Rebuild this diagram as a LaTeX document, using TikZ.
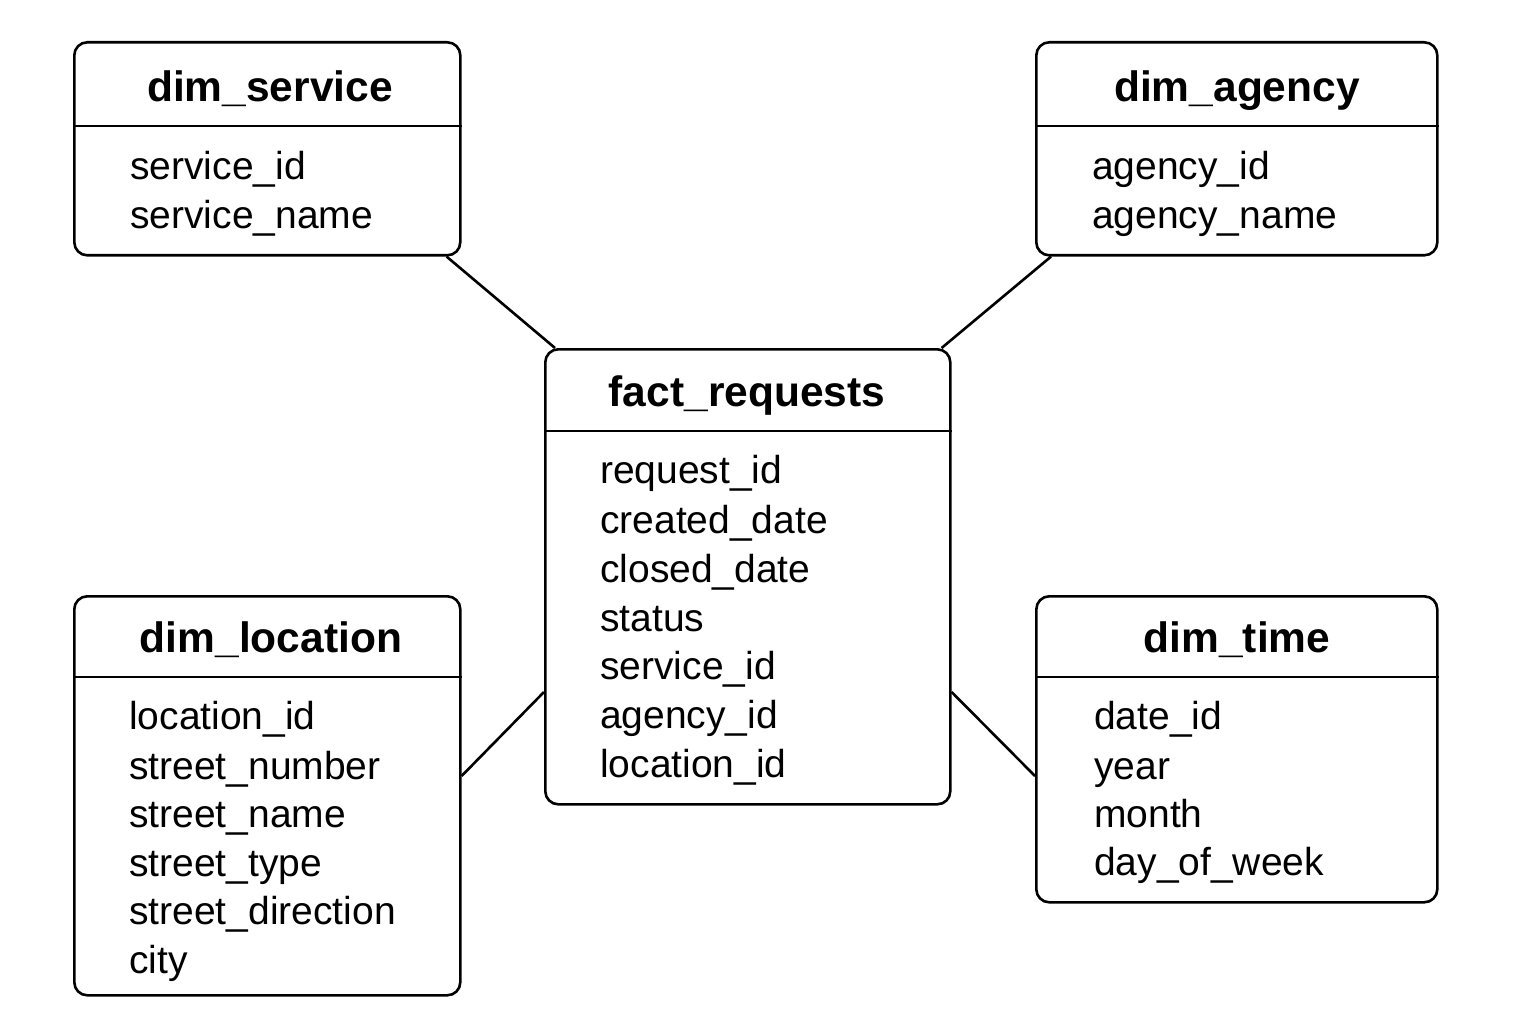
\documentclass[tikz,border=0pt]{standalone}
\usepackage{fontspec}
\setmainfont{Liberation Sans}
\usetikzlibrary{calc}
\begin{document}
\begin{tikzpicture}[x=1pt,y=-1pt,
  box/.style={draw, line width=2.6pt, rounded corners=13pt, anchor=north west, inner sep=0pt},
  sep/.style={line width=2.6pt},
  conn/.style={line width=2.6pt},
  title/.style={font=\fontsize{42.5}{48}\selectfont\bfseries, anchor=base, inner sep=0pt},
  field/.style={font=\fontsize{39}{44}\selectfont, anchor=base west, inner sep=0pt}]
\useasboundingbox[fill=white] (0,0) rectangle (1536,1024);

% dim_service
\node[box, minimum width=386pt, minimum height=213pt] (svc) at (73,41) {};
\draw[sep] (svc.west |- 0,126) -- (svc.east |- 0,126);
\node[title] (svct) at (270,102) {dim\_service};
\node[field] (svc1) at (130,180) {service\_id};
\node[field] (svc2) at (130,229) {service\_name};

% dim_agency
\node[box, minimum width=401pt, minimum height=213pt] (agy) at (1035,41) {};
\draw[sep] (agy.west |- 0,126) -- (agy.east |- 0,126);
\node[title] (agyt) at (1237,102) {dim\_agency};
\node[field] (agy1) at (1092,180) {agency\_id};
\node[field] (agy2) at (1092,229) {agency\_name};

% fact_requests
\node[box, minimum width=405pt, minimum height=455pt] (fact) at (544,348) {};
\draw[sep] (fact.west |- 0,431) -- (fact.east |- 0,431);
\node[title] (factt) at (747,406) {fact\_requests};
\node[field] (f1) at (600,483) {request\_id};
\node[field] (f2) at (600,533) {created\_date};
\node[field] (f3) at (600,582) {closed\_date};
\node[field] (f4) at (600,631) {status};
\node[field] (f5) at (600,679) {service\_id};
\node[field] (f6) at (600,728) {agency\_id};
\node[field] (f7) at (600,777) {location\_id};

% dim_location
\node[box, minimum width=386pt, minimum height=399pt] (loc) at (73,595) {};
\draw[sep] (loc.west |- 0,677) -- (loc.east |- 0,677);
\node[title] (loct) at (271,652) {dim\_location};
\node[field] (l1) at (129,729) {location\_id};
\node[field] (l2) at (129,779) {street\_number};
\node[field] (l3) at (129,827) {street\_name};
\node[field] (l4) at (129,876) {street\_type};
\node[field] (l5) at (129,924) {street\_direction};
\node[field] (l6) at (129,973) {city};

% dim_time
\node[box, minimum width=401pt, minimum height=306pt] (tim) at (1035,595) {};
\draw[sep] (tim.west |- 0,677) -- (tim.east |- 0,677);
\node[title] (timt) at (1237,652) {dim\_time};
\node[field] (t1) at (1094,729) {date\_id};
\node[field] (t2) at (1094,779) {year};
\node[field] (t3) at (1094,827) {month};
\node[field] (t4) at (1094,875) {day\_of\_week};

% connectors
\draw[conn] ($(svc.south east)+(-15pt,0)$) -- ($(fact.north west)+(11pt,0)$);
\draw[conn] ($(agy.south west)+(16pt,0)$) -- ($(fact.north east)+(-10pt,0)$);
\draw[conn] (loc.east |- 0,776) -- (fact.west |- 0,692);
\draw[conn] (tim.west |- 0,776) -- (fact.east |- 0,692);
\end{tikzpicture}
\end{document}
